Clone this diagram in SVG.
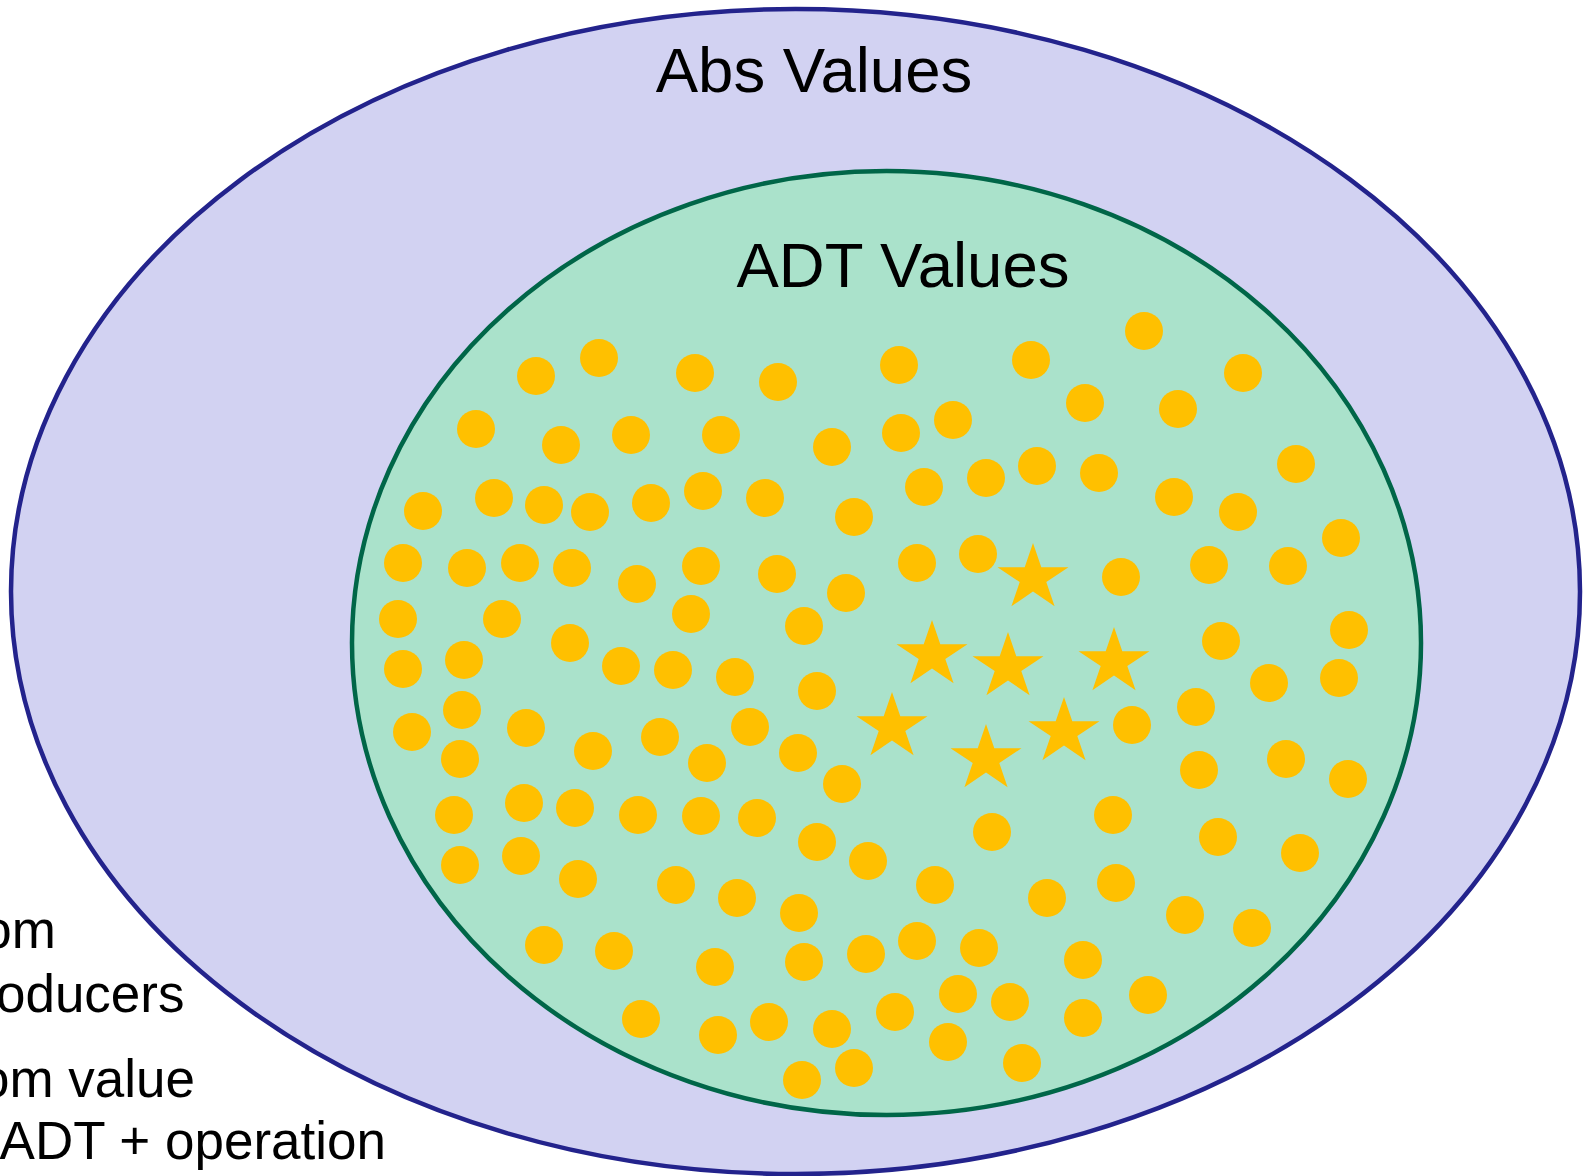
<svg xmlns="http://www.w3.org/2000/svg" xmlns:xlink="http://www.w3.org/1999/xlink" width="1591" height="1176" viewBox="0 0 1591 1176">
<style>
.lbl{font-family:"Liberation Sans",Arial,Helvetica,sans-serif;fill:#000}
.big{font-size:63.5px;text-anchor:middle}
.side{font-size:53px;text-anchor:end}
.dot{fill:#FFC000}
</style>
<defs>
<path id="star" d="M0,-35 L8.3,-10.8 L35.5,-10.8 L13.3,4.1 L21.6,28.3 L0,13.4 L-21.6,28.3 L-13.3,4.1 L-35.5,-10.8 L-8.3,-10.8 Z" fill="#FFC000"/>
</defs>
<rect width="1591" height="1176" fill="#FFFFFF"/>
<g id="abs-values">
<ellipse cx="795.5" cy="591.5" rx="784.5" ry="582.5" fill="#D2D2F2" stroke="#23238C" stroke-width="4.5"/>
<text class="lbl big" x="814" y="92">Abs Values</text>
</g>
<g id="adt-values">
<ellipse cx="886.5" cy="643" rx="534.5" ry="472" fill="#AAE2CB" stroke="#006648" stroke-width="4.5"/>
<text class="lbl big" x="903" y="287">ADT Values</text>
</g>
<g id="side-text" class="lbl side">
<text x="56" y="948">om</text>
<text x="184.5" y="1012">oducers</text>
<text x="195" y="1097">om value</text>
<text x="386" y="1159">ADT + operation</text>
</g>
<g id="dots" class="dot">
<circle cx="536" cy="376" r="19"/><circle cx="599" cy="358" r="19"/><circle cx="695" cy="373" r="19"/>
<circle cx="476" cy="429" r="19"/><circle cx="561" cy="445" r="19"/><circle cx="631" cy="435" r="19"/>
<circle cx="721" cy="435" r="19"/><circle cx="423" cy="511" r="19"/><circle cx="494" cy="498" r="19"/>
<circle cx="544" cy="505" r="19"/><circle cx="590" cy="512" r="19"/><circle cx="651" cy="503" r="19"/>
<circle cx="703" cy="491" r="19"/><circle cx="403" cy="563" r="19"/><circle cx="467" cy="568" r="19"/>
<circle cx="520" cy="563" r="19"/><circle cx="572" cy="568" r="19"/><circle cx="637" cy="584" r="19"/>
<circle cx="701" cy="566" r="19"/><circle cx="398" cy="619" r="19"/><circle cx="502" cy="619" r="19"/>
<circle cx="691" cy="614" r="19"/><circle cx="570" cy="643" r="19"/><circle cx="621" cy="666" r="19"/>
<circle cx="673" cy="670" r="19"/><circle cx="403" cy="669" r="19"/><circle cx="464" cy="660" r="19"/>
<circle cx="462" cy="710" r="19"/><circle cx="526" cy="728" r="19"/>
<circle cx="778" cy="382" r="19"/><circle cx="899" cy="365" r="19"/><circle cx="1031" cy="360" r="19"/>
<circle cx="832" cy="447" r="19"/><circle cx="901" cy="433" r="19"/><circle cx="953" cy="420" r="19"/>
<circle cx="1037" cy="466" r="19"/><circle cx="765" cy="498" r="19"/><circle cx="854" cy="517" r="19"/>
<circle cx="924" cy="487" r="19"/><circle cx="986" cy="478" r="19"/><circle cx="777" cy="574" r="19"/>
<circle cx="846" cy="593" r="19"/><circle cx="917" cy="563" r="19"/><circle cx="978" cy="554" r="19"/>
<circle cx="804" cy="626" r="19"/><circle cx="735" cy="677" r="19"/><circle cx="817" cy="691" r="19"/>
<circle cx="750" cy="727" r="19"/>
<circle cx="1144" cy="331" r="19"/><circle cx="1085" cy="403" r="19"/><circle cx="1178" cy="409" r="19"/>
<circle cx="1243" cy="373" r="19"/><circle cx="1099" cy="473" r="19"/><circle cx="1174" cy="497" r="19"/>
<circle cx="1238" cy="512" r="19"/><circle cx="1296" cy="464" r="19"/><circle cx="1341" cy="538" r="19"/>
<circle cx="1209" cy="565" r="19"/><circle cx="1288" cy="566" r="19"/><circle cx="1121" cy="577" r="19"/>
<circle cx="1349" cy="630" r="19"/><circle cx="1221" cy="641" r="19"/><circle cx="1269" cy="683" r="19"/>
<circle cx="1339" cy="678" r="19"/><circle cx="1196" cy="707" r="19"/><circle cx="1132" cy="725" r="19"/>
<circle cx="412" cy="732" r="19"/><circle cx="593" cy="751" r="19"/><circle cx="660" cy="737" r="19"/>
<circle cx="707" cy="763" r="19"/><circle cx="460" cy="759" r="19"/><circle cx="454" cy="815" r="19"/>
<circle cx="524" cy="803" r="19"/><circle cx="575" cy="808" r="19"/><circle cx="638" cy="815" r="19"/>
<circle cx="701" cy="816" r="19"/><circle cx="460" cy="865" r="19"/><circle cx="521" cy="856" r="19"/>
<circle cx="578" cy="879" r="19"/><circle cx="676" cy="885" r="19"/><circle cx="544" cy="945" r="19"/>
<circle cx="614" cy="951" r="19"/><circle cx="715" cy="967" r="19"/><circle cx="641" cy="1019" r="19"/>
<circle cx="718" cy="1035" r="19"/>
<circle cx="798" cy="753" r="19"/><circle cx="842" cy="784" r="19"/><circle cx="757" cy="818" r="19"/>
<circle cx="817" cy="842" r="19"/><circle cx="868" cy="861" r="19"/><circle cx="935" cy="885" r="19"/>
<circle cx="992" cy="832" r="19"/><circle cx="1047" cy="898" r="19"/><circle cx="737" cy="898" r="19"/>
<circle cx="799" cy="913" r="19"/><circle cx="804" cy="962" r="19"/><circle cx="866" cy="954" r="19"/>
<circle cx="917" cy="941" r="19"/><circle cx="979" cy="948" r="19"/><circle cx="958" cy="994" r="19"/>
<circle cx="1010" cy="1002" r="19"/><circle cx="895" cy="1012" r="19"/><circle cx="769" cy="1022" r="19"/>
<circle cx="832" cy="1029" r="19"/><circle cx="948" cy="1042" r="19"/><circle cx="1022" cy="1063" r="19"/>
<circle cx="802" cy="1080" r="19"/><circle cx="854" cy="1068" r="19"/>
<circle cx="1199" cy="770" r="19"/><circle cx="1286" cy="759" r="19"/><circle cx="1348" cy="779" r="19"/>
<circle cx="1113" cy="815" r="19"/><circle cx="1218" cy="837" r="19"/><circle cx="1300" cy="853" r="19"/>
<circle cx="1116" cy="883" r="19"/><circle cx="1185" cy="915" r="19"/><circle cx="1252" cy="928" r="19"/>
<circle cx="1083" cy="960" r="19"/><circle cx="1148" cy="995" r="19"/><circle cx="1083" cy="1018" r="19"/>
</g>
<g id="stars">
<use xlink:href="#star" href="#star" x="1033" y="578"/>
<use xlink:href="#star" href="#star" x="932" y="655"/>
<use xlink:href="#star" href="#star" x="1008" y="667"/>
<use xlink:href="#star" href="#star" x="1114" y="662"/>
<use xlink:href="#star" href="#star" x="892" y="727"/>
<use xlink:href="#star" href="#star" x="1064" y="732"/>
<use xlink:href="#star" href="#star" x="986" y="759"/>
</g>
<g id="connectors"></g>
</svg>
